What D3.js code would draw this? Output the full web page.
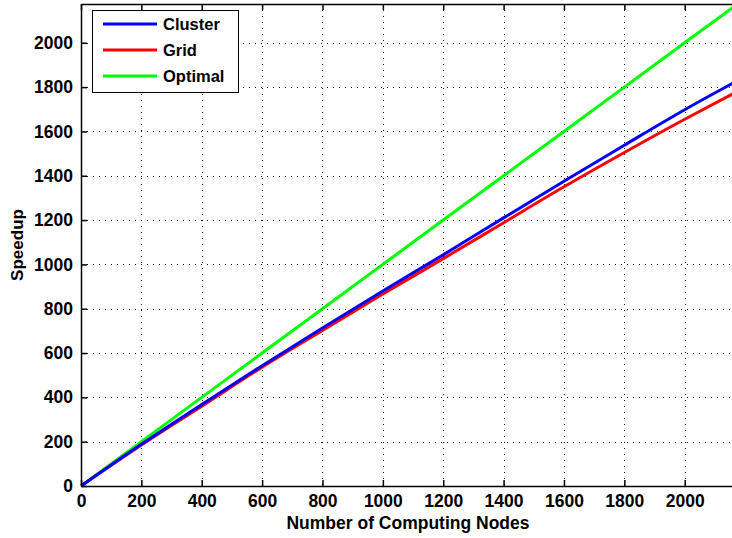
<html>
<script src="https://d3js.org/d3.v7.min.js"></script>
<style>
    body { margin: 0; background: white; }
    text { font-family: "Liberation Sans", Arial, sans-serif; font-weight: bold; fill: black; }
</style>
<body>
<svg id="chart"></svg>
<script>
    // data
    var nodes = [1, 200, 400, 600, 800, 1000, 1200, 1400, 1600, 1800, 2000, 2160];
    var cluster = [1, 188, 368, 543, 713, 880, 1043, 1210, 1375, 1538, 1698, 1818];
    var grid = [1, 185, 360, 536, 702, 866, 1026, 1188, 1350, 1505, 1655, 1770];
    var optimal = [1, 200, 400, 600, 800, 1000, 1200, 1400, 1600, 1800, 2000, 2160];
    var xTicks = [0, 200, 400, 600, 800, 1000, 1200, 1400, 1600, 1800, 2000];
    var yTicks = [0, 200, 400, 600, 800, 1000, 1200, 1400, 1600, 1800, 2000];
    var seriesNames = ["Cluster", "Grid", "Optimal"];
    var seriesColors = ["#0000ff", "#ff0000", "#00ff00"];

    var width = 732, height = 538;
    var plotLeft = 81, plotTop = 4, plotRight = 733, plotBottom = 486;

    var svg = d3.select("#chart")
        .attr("width", width)
        .attr("height", height);

    var x = d3.scaleLinear().domain([0, 2160]).range([plotLeft, plotRight]);
    var y = d3.scaleLinear().domain([0, 2175]).range([plotBottom, plotTop]);

    // dotted grid
    var g = svg.append("g");
    g.selectAll(".vgrid")
        .data(xTicks.filter(d => d > 0))
        .enter().append("line")
        .attr("x1", d => Math.round(x(d)) + 0.5).attr("x2", d => Math.round(x(d)) + 0.5)
        .attr("y1", plotTop).attr("y2", plotBottom)
        .attr("stroke", "#111").attr("stroke-width", 1)
        .attr("stroke-dasharray", "1,5");
    g.selectAll(".hgrid")
        .data(yTicks.filter(d => d > 0))
        .enter().append("line")
        .attr("y1", d => Math.round(y(d)) + 0.5).attr("y2", d => Math.round(y(d)) + 0.5)
        .attr("x1", plotLeft).attr("x2", plotRight)
        .attr("stroke", "#111").attr("stroke-width", 1)
        .attr("stroke-dasharray", "1,5");

    // series
    var allSeries = [cluster, grid, optimal];
    var line = d3.line()
        .curve(d3.curveMonotoneX)
        .x((d, i) => x(nodes[i]))
        .y(d => y(d));
    // optimal first, then grid, then cluster on top
    [2, 1, 0].forEach(function (k) {
        svg.append("path")
            .datum(allSeries[k])
            .attr("fill", "none")
            .attr("stroke", seriesColors[k])
            .attr("stroke-width", 3)
            .attr("d", line);
    });

    // axes box
    svg.append("g")
        .attr("transform", "translate(0," + plotBottom + ")")
        .call(d3.axisBottom(x).tickValues(xTicks).tickFormat(d3.format("d"))
            .tickSizeInner(-6).tickSizeOuter(0).tickPadding(9));
    svg.append("g")
        .attr("transform", "translate(0," + plotTop + ")")
        .call(d3.axisTop(x).tickValues(xTicks).tickSizeInner(-6).tickSizeOuter(0).tickFormat(""));
    svg.append("g")
        .attr("transform", "translate(" + plotLeft + ",0)")
        .call(d3.axisLeft(y).tickValues(yTicks).tickFormat(d3.format("d"))
            .tickSizeInner(-6).tickSizeOuter(0).tickPadding(8));

    svg.selectAll(".domain").attr("stroke", "black").attr("stroke-width", 1.5);
    svg.selectAll(".tick line").attr("stroke", "black").attr("stroke-width", 1.5);
    svg.selectAll(".tick text")
        .style("font-size", "17.5px")
        .style("font-weight", "bold")
        .attr("fill", "black");

    svg.append("text")
        .attr("x", (plotLeft + plotRight) / 2 + 1)
        .attr("y", 529)
        .attr("text-anchor", "middle")
        .style("font-size", "17.5px")
        .text("Number of Computing Nodes");

    svg.append("text")
        .attr("transform", "translate(23," + (plotTop + plotBottom) / 2 + ") rotate(-90)")
        .attr("text-anchor", "middle")
        .style("font-size", "17px")
        .text("Speedup");

    // legend
    var legend = svg.append("g").attr("transform", "translate(92,10)");
    legend.append("rect")
        .attr("x", 0.5).attr("y", 0.5)
        .attr("width", 146).attr("height", 82)
        .attr("fill", "white")
        .attr("stroke", "black").attr("stroke-width", 1);
    seriesNames.forEach(function (name, i) {
        var ly = 14 + i * 26;
        legend.append("line")
            .attr("x1", 11).attr("x2", 65)
            .attr("y1", ly).attr("y2", ly)
            .attr("stroke", seriesColors[i]).attr("stroke-width", 3);
        legend.append("text")
            .attr("x", 71).attr("y", ly + 6)
            .style("font-size", "16.5px")
            .text(name);
    });
</script>
</body>
</html>
